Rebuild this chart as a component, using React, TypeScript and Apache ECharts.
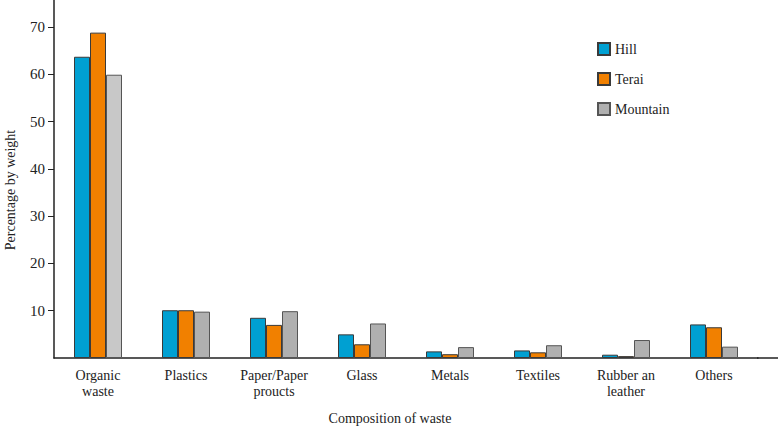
import React, { useEffect, useRef } from "react";
import * as echarts from "echarts";

const categories = [
  "Organic\nwaste",
  "Plastics",
  "Paper/Paper\nproucts",
  "Glass",
  "Metals",
  "Textiles",
  "Rubber an\nleather",
  "Others",
];
const hill = [63.7, 10.1, 8.5, 5.0, 1.4, 1.6, 0.7, 7.1];
const terai = [68.8, 10.1, 7.0, 2.9, 0.8, 1.2, 0.4, 6.5];
const mountain = [59.9, 9.8, 9.9, 7.3, 2.3, 2.7, 3.8, 2.4];
const yTicks = [10, 20, 30, 40, 50, 60, 70];

const FONT = "Liberation Serif";

export default function App() {
  const ref = useRef<HTMLDivElement>(null);
  useEffect(() => {
    if (!ref.current) return;
    const chart = echarts.init(ref.current, undefined, { renderer: "svg" });
    const border = { borderColor: "#3a3a3a", borderWidth: 1 };
    chart.setOption({
      animation: false,
      backgroundColor: "#ffffff",
      textStyle: { fontFamily: FONT },
      grid: { left: 54, right: 20, top: 0, bottom: 69 },
      legend: {
        orient: "vertical",
        left: 592,
        top: 37,
        itemWidth: 12,
        itemHeight: 12,
        itemGap: 16,
        icon: "rect",
        textStyle: { fontFamily: FONT, fontSize: 14, color: "#222" },
        data: ["Hill", "Terai", "Mountain"],
      },
      xAxis: {
        type: "category",
        data: categories,
        axisLine: { lineStyle: { color: "#222", width: 1.5 } },
        axisTick: { show: false },
        axisLabel: {
          interval: 0,
          fontFamily: FONT,
          fontSize: 14,
          color: "#222",
          margin: 9,
          lineHeight: 16,
        },
      },
      yAxis: {
        type: "value",
        min: 0,
        max: 75.7,
        interval: 10,
        splitLine: { show: false },
        axisLine: { show: true, lineStyle: { color: "#222", width: 1.5 } },
        axisTick: { show: true, length: 6, lineStyle: { color: "#222" } },
        axisLabel: {
          fontFamily: FONT,
          fontSize: 15,
          color: "#222",
          margin: 9,
          showMinLabel: false,
          showMaxLabel: false,
          formatter: (v: number) => (yTicks.includes(v) ? String(v) : ""),
        },
      },
      graphic: [
        {
          type: "line",
          shape: { x1: 757, y1: 358, x2: 778, y2: 358 },
          style: { stroke: "#222", lineWidth: 1.5 },
        },
        {
          type: "text",
          x: 390,
          y: 418,
          style: {
            text: "Composition of waste",
            fontFamily: FONT,
            fontSize: 14,
            fill: "#222",
            textAlign: "center",
            textVerticalAlign: "middle",
          },
        },
        {
          type: "text",
          x: 10,
          y: 190,
          rotation: Math.PI / 2,
          style: {
            text: "Percentage by weight",
            fontFamily: FONT,
            fontSize: 14,
            fill: "#222",
            textAlign: "center",
            textVerticalAlign: "middle",
          },
        },
      ],
      series: [
        {
          name: "Hill",
          type: "bar",
          data: hill,
          barWidth: 16,
          barGap: "0%",
          itemStyle: { color: "#00a0d2", ...border },
        },
        {
          name: "Terai",
          type: "bar",
          data: terai,
          barWidth: 16,
          barGap: "0%",
          itemStyle: { color: "#f18000", ...border },
        },
        {
          name: "Mountain",
          type: "bar",
          data: mountain.map((v, i) =>
            i === 0 ? { value: v, itemStyle: { color: "#c8c8c8" } } : v
          ),
          barWidth: 16,
          barGap: "0%",
          itemStyle: { color: "#b0b0b0", borderColor: "#555", borderWidth: 1 },
        },
      ],
    });
    return () => chart.dispose();
  }, []);
  return (
    <div
      ref={ref}
      style={{ position: "fixed", left: 0, top: 0, width: 778, height: 427 }}
    />
  );
}
